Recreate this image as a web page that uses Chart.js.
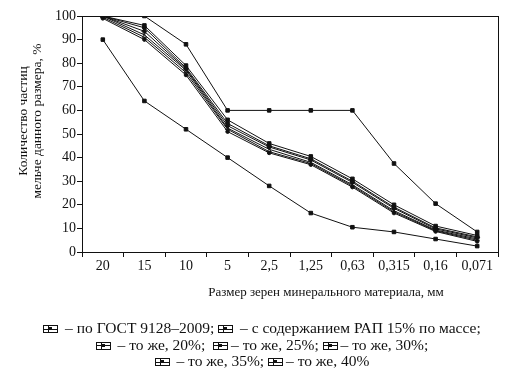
<!DOCTYPE html>
<html>
<head>
<meta charset="utf-8">
<script src="https://cdn.jsdelivr.net/npm/chart.js@4/dist/chart.umd.min.js"></script>
<style>
  html, body { margin: 0; padding: 0; background: #fff; }
  #wrap { position: relative; width: 521px; height: 376px; }
  #legend {
    position: absolute; left: 0; top: 320px; width: 524px;
    font: 15.5px "Liberation Serif", "DejaVu Serif", serif; color: #111;
    text-align: center; line-height: 16.5px;
  }
  .ico {
    display: inline-block; position: relative; width: 13px; height: 6px;
    border: 1px solid #111; vertical-align: 0px; margin-right: 3px;
    background: linear-gradient(#111, #111) center / 100% 1px no-repeat;
  }
  .ico::before { content: ""; position: absolute; left: 4px; top: 0; width: 1px; height: 6px; background: #111; }
  .ico::after { content: ""; position: absolute; left: 5px; top: 1px; width: 3px; height: 3px; background: #111; }
</style>
</head>
<body>
<div id="wrap">
  <canvas id="chart" width="521" height="376"></canvas>
  <div id="legend">
    <div><span class="ico"></span> – по ГОСТ 9128–2009; <span class="ico"></span> – с содержанием РАП 15% по массе;</div>
    <div><span class="ico"></span> – то же, 20%; &nbsp;<span class="ico"></span>– то же, 25%; <span class="ico"></span>– то же, 30%;</div>
    <div><span class="ico"></span> – то же, 35%; <span class="ico"></span>– то же, 40%</div>
  </div>
</div>
<script>
const sizes = ["20", "15", "10", "5", "2,5", "1,25", "0,63", "0,315", "0,16", "0,071"];
const gostUpper = [100, 100, 88, 60, 60, 60, 60, 37.5, 20.5, 8.5];
const gostLower = [90, 64, 52, 40, 28, 16.5, 10.5, 8.5, 5.5, 2.5];
const rap15 = [100, 96, 79, 56, 46, 40.5, 31, 20, 11, 7];
const rap20 = [100, 95, 78, 54.5, 45, 39.5, 30, 19, 10.2, 6.4];
const rap25 = [100, 93.5, 77.5, 53.5, 44.5, 39, 29.5, 18.5, 9.8, 6];
const rap30 = [100, 92, 77, 52.5, 43.5, 38, 28.5, 17.5, 9.3, 5.5];
const rap35 = [99.5, 91, 76, 52, 42.5, 37.5, 28, 17, 9, 5];
const rap40 = [99, 90, 75, 51, 42, 37, 27.5, 16.5, 8.7, 4.5];

const yTitle1 = "Количество частиц";
const yTitle2 = "мельче данного размера, %";
const xTitle = "Размер зерен минерального материала, мм";

const SERIF = '"Liberation Serif", "DejaVu Serif", serif';
const INK = "#111";

function series(label, data, style, radius) {
  return {
    label: label,
    data: data,
    borderColor: INK,
    backgroundColor: INK,
    borderWidth: 1,
    pointStyle: style,
    pointRadius: radius,
    pointBorderWidth: 1,
    tension: 0,
  };
}

// frame + axis titles
const framePlugin = {
  id: "frame",
  afterDraw: (chart) => {
    const { ctx, chartArea } = chart;
    ctx.save();
    ctx.strokeStyle = INK;
    ctx.lineWidth = 1;
    ctx.strokeRect(chartArea.left + 0.5, chartArea.top + 0.5,
      chartArea.right - chartArea.left, chartArea.bottom - chartArea.top);
    ctx.fillStyle = INK;
    ctx.font = "13px " + SERIF;
    ctx.textAlign = "center";
    ctx.textBaseline = "middle";
    ctx.fillText(xTitle, 326, 293);
    ctx.font = "13.5px " + SERIF;
    ctx.translate(0, 121);
    ctx.rotate(-Math.PI / 2);
    ctx.fillText(yTitle1, 0, 23);
    ctx.fillText(yTitle2, 0, 37);
    ctx.restore();
  },
};

new Chart(document.getElementById("chart"), {
  type: "line",
  data: {
    labels: sizes,
    datasets: [
      series("ГОСТ 9128–2009 (верх)", gostUpper, "rect", 2.5),
      series("ГОСТ 9128–2009 (низ)", gostLower, "rect", 2.5),
      series("РАП 15%", rap15, "rect", 2.5),
      series("РАП 20%", rap20, "circle", 2),
      series("РАП 25%", rap25, "rectRot", 2.5),
      series("РАП 30%", rap30, "crossRot", 2.5),
      series("РАП 35%", rap35, "line", 2.5),
      series("РАП 40%", rap40, "circle", 1.8),
    ],
  },
  options: {
    responsive: false,
    animation: false,
    layout: { padding: { left: 0, right: 23, top: 16, bottom: 0 } },
    plugins: { legend: { display: false }, tooltip: { enabled: false } },
    scales: {
      x: {
        offset: true,
        grid: { display: true, drawOnChartArea: false, tickLength: 5, color: INK, offset: true },
        border: { display: true, color: INK, width: 1 },
        ticks: { color: INK, padding: 1, maxRotation: 0, autoSkip: false, font: { family: SERIF, size: 14 } },
        afterFit: (scale) => { scale.height = 124; },
      },
      y: {
        min: 0,
        max: 100,
        grid: { display: true, drawOnChartArea: false, tickLength: 5, color: INK },
        border: { display: true, color: INK, width: 1 },
        ticks: { stepSize: 10, color: INK, padding: 1, font: { family: SERIF, size: 14 } },
        afterFit: (scale) => { scale.width = 82; },
      },
    },
  },
  plugins: [framePlugin],
});
</script>
</body>
</html>
